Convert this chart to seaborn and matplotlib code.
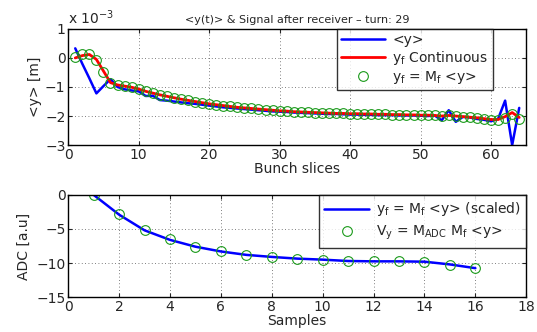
import numpy as np
import pandas as pd
import matplotlib
matplotlib.use('Agg')
import matplotlib.pyplot as plt
import seaborn as sns

# top panel: bunch slices (values in units of 1e-3 m)
slices = np.arange(1, 65)
y_mean = [0.33, -0.2, -0.7, -1.22, -0.97, -0.73, -1.0, -1.08, -1.12, -1.15,
          -1.31, -1.3, -1.45, -1.47, -1.5, -1.53, -1.56, -1.58, -1.61, -1.64,
          -1.67, -1.7, -1.72, -1.74, -1.76, -1.78, -1.8, -1.82, -1.84, -1.85,
          -1.86, -1.88, -1.89, -1.9, -1.91, -1.92, -1.93, -1.93, -1.94, -1.95,
          -1.95, -1.96, -1.96, -1.97, -1.97, -1.97, -1.98, -1.98, -1.98, -1.99,
          -2.0, -1.98, -2.15, -1.8, -2.2, -2.03, -2.05, -2.1, -2.13, -2.18,
          -2.1, -1.47, -3.0, -1.72]
yf_cont = [0.0, 0.08, 0.12, -0.05, -0.45, -0.85, -0.93, -0.97, -1.01, -1.07,
           -1.15, -1.21, -1.27, -1.32, -1.37, -1.42, -1.46, -1.5, -1.54, -1.58,
           -1.61, -1.64, -1.67, -1.7, -1.72, -1.74, -1.76, -1.78, -1.8, -1.82,
           -1.83, -1.85, -1.86, -1.87, -1.88, -1.89, -1.9, -1.91, -1.91, -1.92,
           -1.92, -1.93, -1.93, -1.94, -1.94, -1.95, -1.95, -1.96, -1.96, -1.97,
           -1.97, -1.98, -2.0, -1.98, -2.0, -2.02, -2.04, -2.06, -2.09, -2.12,
           -2.12, -2.02, -1.88, -2.05]
yf_disc = [0.03, 0.12, 0.14, -0.07, -0.5, -0.87, -0.93, -0.97, -1.01, -1.07,
           -1.15, -1.21, -1.27, -1.32, -1.37, -1.42, -1.46, -1.5, -1.54, -1.58,
           -1.61, -1.64, -1.67, -1.7, -1.72, -1.74, -1.76, -1.78, -1.8, -1.82,
           -1.83, -1.85, -1.86, -1.87, -1.88, -1.89, -1.9, -1.91, -1.91, -1.92,
           -1.92, -1.93, -1.93, -1.94, -1.94, -1.95, -1.95, -1.96, -1.96, -1.97,
           -1.97, -1.98, -2.0, -1.98, -2.0, -2.02, -2.04, -2.06, -2.09, -2.13,
           -2.15, -2.08, -1.92, -2.1]

# bottom panel: ADC samples
samples = np.arange(1, 17)
adc_scaled = [0, -2.9, -5.2, -6.6, -7.6, -8.3, -8.8, -9.1, -9.35, -9.5,
              -9.7, -9.75, -9.75, -9.8, -10.2, -10.75]
adc_v = [0, -2.74, -5.13, -6.52, -7.62, -8.27, -8.77, -9.1, -9.36, -9.5,
         -9.76, -9.76, -9.76, -9.86, -10.26, -10.76]

sns.set_style('ticks')
plt.rcParams['font.family'] = ['DejaVu Sans']
plt.rcParams['mathtext.default'] = 'regular'
plt.rcParams['axes.linewidth'] = 1.0

fs = 10
fig = plt.figure(figsize=(5.37, 3.32), dpi=100)
ax1 = fig.add_axes([0.127, 0.563, 0.853, 0.35])
ax2 = fig.add_axes([0.127, 0.105, 0.853, 0.308])

top = pd.DataFrame({'x': slices, 'y': y_mean, 'c': yf_cont, 'd': yf_disc})
sns.lineplot(data=top, x='x', y='y', ax=ax1, color='#0000ff', lw=1.8, label='<y>')
sns.lineplot(data=top, x='x', y='c', ax=ax1, color='#ff0000', lw=2.0, label='y$_f$ Continuous')
ax1.plot(top['x'], top['d'], ls='none', marker='o', ms=7, mfc='none',
         mec='#1a9a1a', mew=0.8, label='y$_f$ = M$_f$ <y>')
ax1.set_xlim(0, 65)
ax1.set_ylim(-3, 1)
ax1.set_yticks([-3, -2, -1, 0, 1])
ax1.set_xticks([0, 10, 20, 30, 40, 50, 60])
ax1.set_xlabel('Bunch slices', fontsize=fs, labelpad=0)
ax1.set_ylabel('<y> [m]', fontsize=fs, labelpad=2)
ax1.text(0.0, 1.02, 'x 10$^{-3}$', transform=ax1.transAxes, fontsize=fs, va='bottom')
ax1.set_title('<y(t)> & Signal after receiver \u2013 turn: 29', fontsize=8, pad=4)
ax1.legend(loc='upper right', bbox_to_anchor=(0.927, 1.0), fontsize=fs, frameon=True,
           fancybox=False, edgecolor='black', handlelength=3.2, borderpad=0.3,
           labelspacing=0.15, handletextpad=0.5, borderaxespad=0.0)

bot = pd.DataFrame({'s': samples, 'a': adc_scaled, 'v': adc_v})
sns.lineplot(data=bot, x='s', y='a', ax=ax2, color='#0000ff', lw=1.8,
             label='y$_f$ = M$_f$ <y> (scaled)')
ax2.plot(bot['s'], bot['v'], ls='none', marker='o', ms=7, mfc='none',
         mec='#1a9a1a', mew=0.8, label='V$_y$ = M$_{ADC}$ M$_f$ <y>')
ax2.set_xlim(0, 18)
ax2.set_ylim(-15, 0)
ax2.set_xticks(range(0, 19, 2))
ax2.set_yticks([-15, -10, -5, 0])
ax2.set_xlabel('Samples', fontsize=fs, labelpad=0)
ax2.set_ylabel('ADC [a.u]', fontsize=fs, labelpad=4)
ax2.legend(loc='upper right', fontsize=fs, frameon=True, fancybox=False,
           edgecolor='black', handlelength=3.2, borderpad=0.4, labelspacing=0.4,
           handletextpad=0.5, borderaxespad=0.0)

for ax in (ax1, ax2):
    ax.grid(True, ls=(0, (1, 3)), color='#555555', lw=0.6)
    ax.tick_params(direction='in', top=True, right=True, labelsize=fs, length=3, pad=2)
    for s in ax.spines.values():
        s.set_visible(True)
        s.set_color('black')
    ax.get_legend().get_frame().set_linewidth(1.0)

fig.savefig('out.png', dpi=100)
